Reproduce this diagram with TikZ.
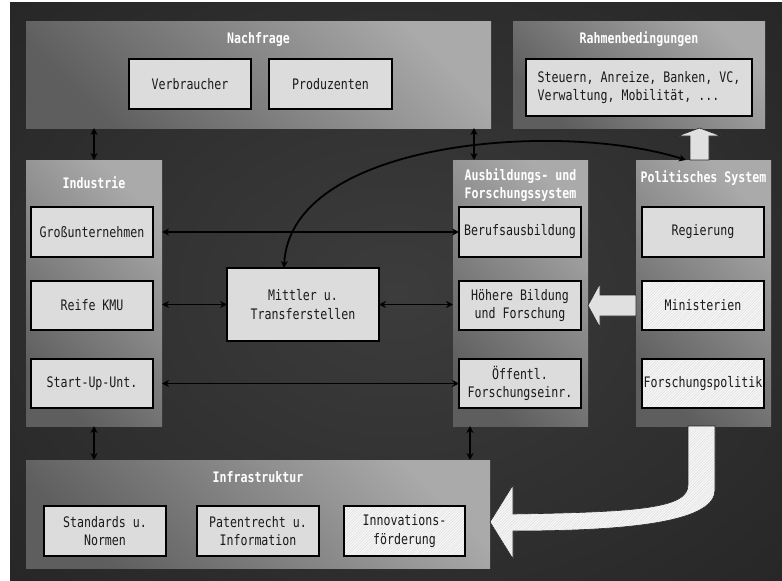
\documentclass[tikz,border=0pt]{standalone}
\usepackage{fontspec}
\newfontfamily\boxfont{DejaVu Sans Mono}[FakeStretch=0.8]
\usetikzlibrary{arrows.meta,calc,patterns.meta}
\definecolor{bgin}{HTML}{3C3C3C}
\definecolor{bgout}{HTML}{1E1E1E}
\definecolor{grplight}{HTML}{AAAAAA}
\definecolor{grpdark}{HTML}{5E5E5E}
\definecolor{boxfill}{HTML}{DCDCDC}
\definecolor{hatchbg}{HTML}{F6F6F6}
\definecolor{hatchln}{HTML}{D6D6D6}
\definecolor{txt}{HTML}{1A1A1A}
\definecolor{bigarrow}{HTML}{E0E0E0}
\pgfdeclareradialshading{bgshade}{\pgfpoint{0bp}{0bp}}{color(0bp)=(bgin); color(50bp)=(bgout)}
\begin{document}
\begin{tikzpicture}[x=1pt,y=-1pt,
  grp/.style={shade, top color=grplight, bottom color=grpdark, shading angle=-45, inner sep=0pt, outer sep=0pt},
  ttl/.style={text=white, font=\boxfont\bfseries\fontsize{14.5}{18}\selectfont, align=center, inner sep=0pt},
  bx/.style={draw=black, line width=1.1pt, fill=boxfill, text=txt, font=\boxfont\fontsize{14.5}{18.5}\selectfont, align=center, inner sep=0pt, outer sep=0pt, minimum width=122pt, minimum height=50pt},
  hbx/.style={bx, preaction={fill=hatchbg}, pattern={Lines[angle=45,distance=2pt,line width=0.3pt]}, pattern color=hatchln},
  conn/.style={line width=1.8pt, {Stealth[length=7pt,width=7pt]}-{Stealth[length=7pt,width=7pt]}},
  bigarr/.style={fill=bigarrow, draw=black!85, line width=0.6pt, line join=miter},
  hbig/.style={preaction={fill=hatchbg}, pattern={Lines[angle=45,distance=2pt,line width=0.3pt]}, pattern color=hatchln, draw=black!85, line width=0.6pt}
]
\useasboundingbox (0,0) rectangle (782,581);
\path[shading=bgshade] (10,2) rectangle (782,581);

% Nachfrage
\node[grp, minimum width=465pt, minimum height=107pt] (nach) at (258.5,74.5) {};
\node[ttl, anchor=base] (nacht) at (258.5,43) {Nachfrage};
\node[bx] (verb) at (190,84) {Verbraucher};
\node[bx, minimum width=123pt] (prod) at (330.5,84) {Produzenten};

% Rahmenbedingungen
\node[grp, minimum width=252pt, minimum height=107pt] (rahm) at (639,74.5) {};
\node[ttl, anchor=base] (rahmt) at (639,43) {Rahmenbedingungen};
\node[bx, minimum width=226pt, minimum height=57pt, align=left] (rahmi) at (639,87.5) {Steuern, Anreize, Banken, VC,\\Verwaltung, Mobilität, ...};

% Industrie
\node[grp, minimum width=136pt, minimum height=266pt] (ind) at (94,293) {};
\node[ttl, anchor=base] (indt) at (94,188) {Industrie};
\node[bx] (gross) at (92,232) {Großunternehmen};
\node[bx, minimum height=49pt] (kmu) at (92,305.5) {Reife KMU};
\node[bx, minimum height=49pt] (start) at (92,383.5) {Start-Up-Unt.};

% Mittler
\node[bx, minimum width=152pt, minimum height=73pt] (mitt) at (303,304.5) {Mittler u.\\Transferstellen};

% Ausbildungs- und Forschungssystem
\node[grp, minimum width=135pt, minimum height=266pt] (aus) at (520.5,293) {};
\node[ttl] (aust) at (520.5,185) {Ausbildungs- und\\Forschungssystem};
\node[bx] (beruf) at (520,232) {Berufsausbildung};
\node[bx, minimum height=49pt] (hoeh) at (520,305.5) {Höhere Bildung\\und Forschung};
\node[bx, minimum height=49pt] (oeff) at (520,383.5) {Öffentl.\\Forschungseinr.};

% Politisches System
\node[grp, minimum width=135pt, minimum height=266pt] (pol) at (703.5,293) {};
\node[ttl, anchor=base] (polt) at (703.5,182) {Politisches System};
\node[bx] (reg) at (703,232) {Regierung};
\node[hbx, minimum height=49pt] (mini) at (703,305.5) {Ministerien};
\node[hbx, minimum height=49pt] (fpol) at (703,383.5) {Forschungspolitik};

% Infrastruktur
\node[grp, minimum width=464pt, minimum height=108pt] (inf) at (258,514) {};
\node[ttl, anchor=base] (inft) at (258,482) {Infrastruktur};
\node[bx] (std) at (105,531) {Standards u.\\Normen};
\node[bx] (pat) at (258,531) {Patentrecht u.\\Information};
\node[hbx, minimum width=121pt] (innov) at (404.5,531) {Innovations-\\förderung};

% vertical connectors
\draw[conn] (nach.south -| ind.north) -- (ind.north);
\coordinate (ausn) at ([xshift=21pt]aus.north west);
\draw[conn] (ausn |- nach.south) -- (ausn);
\draw[conn] (ind.south) -- (ind.south |- inf.north);
\coordinate (auss) at ([xshift=17pt]aus.south west);
\draw[conn] (auss) -- (auss |- inf.north);

% horizontal connectors
\draw[conn] (gross.east -| ind.east) -- (beruf.west);
\draw[conn] (mitt.west -| ind.east) -- (mitt.west);
\draw[conn] (mitt.east) -- (mitt.east -| aus.west);
\draw[conn] (start.east -| ind.east) -- (oeff.west);

% curved connector
\draw[conn] ([xshift=-19pt]mitt.north) .. controls +(6,-128) and +(-126,-40) .. ([xshift=-17.5pt]pol.north);

% big up arrow
\coordinate (ua) at ([xshift=-4pt]pol.north);
\draw[bigarr] ($(ua)+(-9.5,0)$) -- ($(ua)+(-9.5,-24)$) -- ($(ua)+(-21.5,-24)$) -- (ua |- rahm.south) -- ($(ua)+(21.5,-24)$) -- ($(ua)+(9.5,-24)$) -- ($(ua)+(9.5,0)$) -- cycle;

% big left arrow
\coordinate (la) at (pol.west |- hoeh.center);
\draw[bigarr] ($(la)+(0,-10.5)$) -- ($(la)+(-36,-10.5)$) -- ($(la)+(-36,-22)$) -- (la -| aus.east) -- ($(la)+(-36,22)$) -- ($(la)+(-36,10.5)$) -- ($(la)+(0,10.5)$) -- cycle;

% big curved hatched arrow
\coordinate (cb) at ([xshift=-2pt]pol.south);
\coordinate (ct) at ([yshift=-8pt]inf.east);
\draw[hbig] ($(cb)+(-13.5,0)$) -- ($(cb)+(-13.5,59)$) .. controls ($(cb)+(-13.5,82)$) and (640,512) .. ($(ct)+(23,-8)$) -- ($(ct)+(23,-37)$) -- (ct) -- ($(ct)+(23,37)$) -- ($(ct)+(23,9)$) .. controls (640,531) and ($(cb)+(13.5,94)$) .. ($(cb)+(13.5,64)$) -- ($(cb)+(13.5,0)$) -- cycle;
\end{tikzpicture}
\end{document}
